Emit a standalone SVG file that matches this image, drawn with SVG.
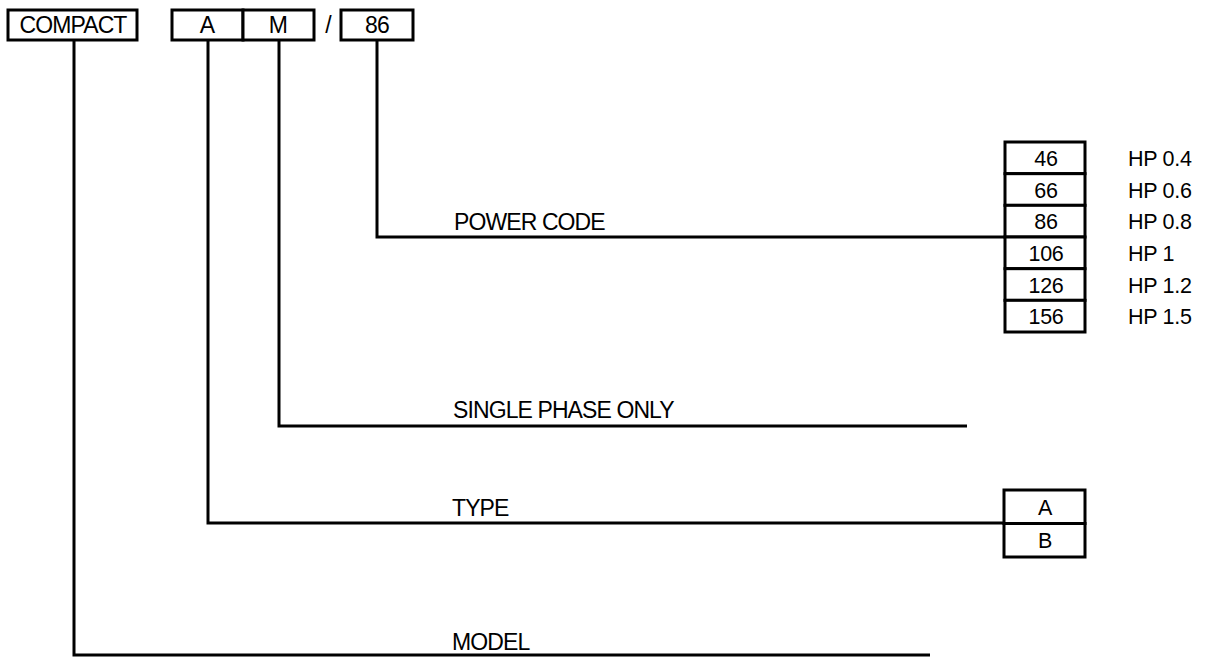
<svg xmlns="http://www.w3.org/2000/svg" width="1209" height="657" viewBox="0 0 1209 657">
<style>
.box{fill:#fff;stroke:#000;stroke-width:3}
.ln{fill:none;stroke:#000;stroke-width:3}
.t{font-family:"Liberation Sans",Arial,sans-serif;font-size:23px;fill:#000;letter-spacing:-0.9px}
.c{text-anchor:middle}
.s{font-size:21.5px;letter-spacing:-0.3px}
</style>
<rect width="1209" height="657" fill="#fff"/>
<g id="connectors">
<polyline class="ln" points="74,40 74,655 930,655"/>
<polyline class="ln" points="208,40 208,523 1004,523"/>
<polyline class="ln" points="279,40 279,426 967,426"/>
<polyline class="ln" points="377,40 377,237 1005,237"/>
</g>
<g id="compact">
<rect class="box" x="8" y="10" width="129" height="30"/>
<text class="t c" x="73" y="33">COMPACT</text>
</g>
<g id="type-model">
<rect class="box" x="172" y="10" width="71" height="30"/>
<rect class="box" x="243" y="10" width="71" height="30"/>
<text class="t c" x="207" y="33">A</text>
<text class="t c" x="278" y="33">M</text>
</g>
<text class="t c" x="328" y="33">/</text>
<g id="power">
<rect class="box" x="341" y="10" width="72" height="30"/>
<text class="t c" x="377" y="33">86</text>
</g>
<g id="labels">
<text class="t" x="454" y="230">POWER CODE</text>
<text class="t" x="453" y="418">SINGLE PHASE ONLY</text>
<text class="t" x="452" y="516">TYPE</text>
<text class="t" x="452" y="650">MODEL</text>
</g>
<g id="power-table">
<rect class="box" x="1005" y="142" width="80" height="31.67"/>
<rect class="box" x="1005" y="173.67" width="80" height="31.67"/>
<rect class="box" x="1005" y="205.33" width="80" height="31.67"/>
<rect class="box" x="1005" y="237" width="80" height="31.67"/>
<rect class="box" x="1005" y="268.67" width="80" height="31.67"/>
<rect class="box" x="1005" y="300.33" width="80" height="31.67"/>
<text class="t s c" x="1046" y="166">46</text>
<text class="t s c" x="1046" y="198">66</text>
<text class="t s c" x="1046" y="229">86</text>
<text class="t s c" x="1046" y="261">106</text>
<text class="t s c" x="1046" y="293">126</text>
<text class="t s c" x="1046" y="324">156</text>
<text class="t s" x="1128" y="166">HP 0.4</text>
<text class="t s" x="1128" y="198">HP 0.6</text>
<text class="t s" x="1128" y="229">HP 0.8</text>
<text class="t s" x="1128" y="261">HP 1</text>
<text class="t s" x="1128" y="293">HP 1.2</text>
<text class="t s" x="1128" y="324">HP 1.5</text>
</g>
<g id="type-table">
<rect class="box" x="1004" y="490" width="81" height="33.5"/>
<rect class="box" x="1004" y="523.5" width="81" height="33.5"/>
<text class="t s c" x="1045" y="515">A</text>
<text class="t s c" x="1045" y="548">B</text>
</g>
</svg>
